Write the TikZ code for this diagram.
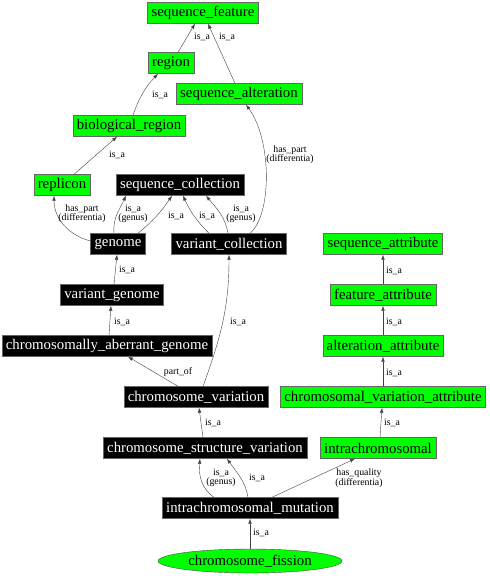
\documentclass[tikz,border=0pt]{standalone}
\usepackage{fontspec}
\setmainfont{Liberation Serif}
\usetikzlibrary{arrows.meta,shapes.geometric}
\tikzset{
  dark/.style={draw=black!60, fill=black, text=white, inner xsep=4pt, inner ysep=0pt, minimum height=21pt, font=\fontsize{14.8}{16}\selectfont},
  lime/.style={dark, fill=green, text=black},
  lbl/.style={font=\fontsize{9.8}{9}\selectfont, inner sep=0pt, align=center},
  edge/.style={draw=black!75, -{Latex[length=5pt,width=3.5pt]}}
}
\begin{document}
\begin{tikzpicture}[x=1pt,y=-1pt]
  \useasboundingbox (0,0) rectangle (490,576);

  \node[lime] (seqfeat) at (203,13) {sequence\_feature};
  \node[lime] (region) at (171,63) {region};
  \node[lime] (seqalt) at (239,94) {sequence\_alteration};
  \node[lime] (bioreg) at (129,126) {biological\_region};
  \node[lime] (replicon) at (62,185) {replicon};
  \node[dark] (seqcoll) at (180,185) {sequence\_collection};
  \node[dark] (genome) at (118,244) {genome};
  \node[dark] (varcoll) at (229,244) {variant\_collection};
  \node[dark] (vargen) at (112,295) {variant\_genome};
  \node[dark] (abgenome) at (107,346) {chromosomally\_aberrant\_genome};
  \node[dark] (chromvar) at (196,397) {chromosome\_variation};
  \node[dark] (csvar) at (205,448) {chromosome\_structure\_variation};
  \node[dark] (intramut) at (250,508) {intrachromosomal\_mutation};
  \node[ellipse, draw=black!70, fill=green, inner sep=0pt, minimum width=184pt, minimum height=24pt,
        font=\fontsize{14.8}{16}\selectfont] (fission) at (250,561) {chromosome\_fission};
  \node[lime] (seqattr) at (383,244) {sequence\_attribute};
  \node[lime] (featattr) at (383,295) {feature\_attribute};
  \node[lime] (altattr) at (383,346) {alteration\_attribute};
  \node[lime] (cvattr) at (383,397) {chromosomal\_variation\_attribute};
  \node[lime] (intrachrom) at (378,448) {intrachromosomal};

  \draw[edge] ([xshift=7pt]region.north) -- ([xshift=-8pt]seqfeat.south);
  \draw[edge] ([xshift=-4pt]seqalt.north) -- ([xshift=5pt]seqfeat.south);
  \draw[edge] ([xshift=4pt]bioreg.north) to[bend left=12] ([xshift=-13pt]region.south);
  \draw[edge] ([xshift=12pt]replicon.north) -- ([xshift=-12pt]bioreg.south);
  \draw[edge] ([yshift=3pt]genome.west) to[out=165,in=-90] ([xshift=-8pt]replicon.south);
  \draw[edge] ([xshift=-4pt]genome.north) to[out=95,in=-115] ([xshift=-54pt]seqcoll.south);
  \draw[edge] ([xshift=20pt]genome.north) to[bend right=8] ([xshift=-8pt]seqcoll.south);
  \draw[edge] ([xshift=-20pt]varcoll.north) to[bend left=10] ([xshift=3pt]seqcoll.south);
  \draw[edge] ([xshift=-1pt]varcoll.north) to[out=100,in=-50] ([xshift=26pt]seqcoll.south);
  \draw[edge] ([xshift=21pt]varcoll.north) .. controls (272,215) and (272,140) .. ([xshift=7pt]seqalt.south);
  \draw[edge] ([xshift=2pt]vargen.north) -- ([xshift=-1pt]genome.south);
  \draw[edge] ([xshift=2pt]abgenome.north) -- ([xshift=-1pt]vargen.south);
  \draw[edge] ([xshift=7pt]chromvar.north) to[out=70,in=-90] (varcoll.south);
  \draw[edge] ([xshift=-18pt]chromvar.north) -- ([xshift=21pt]abgenome.south);
  \draw[edge] ([xshift=-2pt]csvar.north) -- ([xshift=3pt]chromvar.south);
  \draw[edge] ([xshift=-36pt]intramut.north) to[out=145,in=-95] ([xshift=-5pt]csvar.south);
  \draw[edge] ([xshift=-2pt]intramut.north) to[out=100,in=-55] ([xshift=22pt]csvar.south);
  \draw[edge] ([xshift=22pt]intramut.north) -- ([xshift=-23pt]intrachrom.south);
  \draw[edge] (fission.north) -- (intramut.south);
  \draw[edge] (featattr.north) -- (seqattr.south);
  \draw[edge] (altattr.north) -- (featattr.south);
  \draw[edge] (cvattr.north) -- (altattr.south);
  \draw[edge] ([xshift=2pt]intrachrom.north) -- ([xshift=-1pt]cvattr.south);

  \node[lbl] (la) at (202,37) {is\_a};
  \node[lbl] (lb) at (227,37) {is\_a};
  \node[lbl] (lc) at (160,95) {is\_a};
  \node[lbl] (ld) at (117,155) {is\_a};
  \node[lbl] (le) at (290,155) {has\_part\\(differentia)};
  \node[lbl] (lf) at (82,214) {has\_part\\(differentia)};
  \node[lbl] (lg) at (133,214) {is\_a\\(genus)};
  \node[lbl] (lh) at (176,216) {is\_a};
  \node[lbl] (li) at (207,216) {is\_a};
  \node[lbl] (lj) at (241,214) {is\_a\\(genus)};
  \node[lbl] (lk) at (127,270) {is\_a};
  \node[lbl] (ll) at (122,322) {is\_a};
  \node[lbl] (lm) at (238,322) {is\_a};
  \node[lbl] (ln) at (178,372) {part\_of};
  \node[lbl] (lo) at (213,423) {is\_a};
  \node[lbl] (lp) at (221,478) {is\_a\\(genus)};
  \node[lbl] (lq) at (257,478) {is\_a};
  \node[lbl] (lr) at (359,478) {has\_quality\\(differentia)};
  \node[lbl] (ls) at (261,533) {is\_a};
  \node[lbl] (lt) at (394,271) {is\_a};
  \node[lbl] (lu) at (394,322) {is\_a};
  \node[lbl] (lv) at (394,373) {is\_a};
  \node[lbl] (lw) at (392,423) {is\_a};
\end{tikzpicture}
\end{document}
